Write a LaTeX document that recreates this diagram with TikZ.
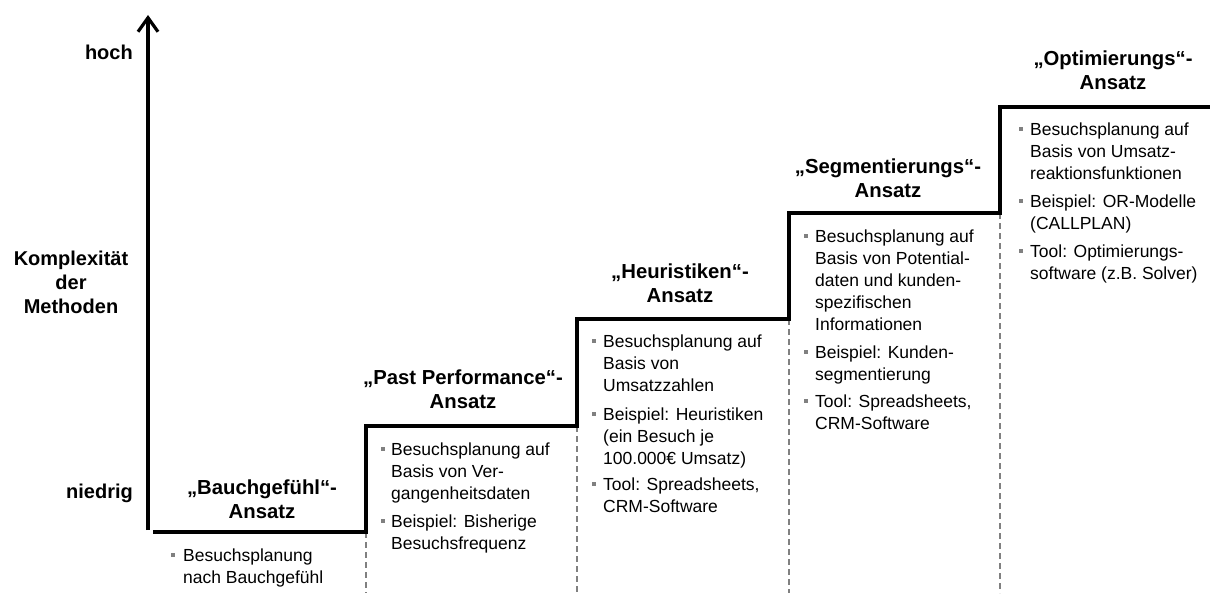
\documentclass[tikz,border=0pt]{standalone}
\usepackage{fontspec}
\setmainfont{Liberation Sans}
\usetikzlibrary{arrows.meta}
\begin{document}
\begin{tikzpicture}[x=1pt,y=-1pt,
  ttl/.style={font=\bfseries\fontsize{20.3}{24}\selectfont, align=center, anchor=base, inner sep=0pt},
  lbl/.style={font=\bfseries\fontsize{20}{24}\selectfont, inner sep=0pt},
  txt/.style={font=\fontsize{17.5}{22}\selectfont, align=left, anchor=base west, inner sep=0pt},
  bul/.style={fill=gray, minimum size=4.5pt, inner sep=0pt},
  stepline/.style={line width=3.3pt, line cap=rect, line join=miter},
  guide/.style={gray, line width=1.3pt, dash pattern=on 6pt off 4pt}
]
\useasboundingbox (0,0) rectangle (1210,615);
% axis
\coordinate (a0) at (148,530);
\coordinate (a1) at (148,15);
\draw[line width=3.8pt, -{Straight Barb[length=14pt,width=20pt,line width=3.2pt]}] (a0) -- (a1);
\node[lbl, anchor=base east] (hoch) at (133,60) {hoch};
\node[lbl, anchor=base east] (niedrig) at (133,498) {niedrig};
\node[lbl, anchor=base, align=center] (kompl) at (71,313) {Komplexität\\der\\Methoden};
% steps
\coordinate (s0) at (155,532);
\coordinate (s1) at (366,532);
\coordinate (s2) at (366,426);
\coordinate (s3) at (577,426);
\coordinate (s4) at (577,319);
\coordinate (s5) at (789,319);
\coordinate (s6) at (789,213);
\coordinate (s7) at (1000,213);
\coordinate (s8) at (1000,107);
\coordinate (s9) at (1210,107);
\coordinate (d1) at (366,593);
\coordinate (d2) at (577,593);
\coordinate (d3) at (789,593);
\coordinate (d4) at (1000,593);
\draw[guide] (s1) -- (d1);
\draw[guide] (s3) -- (d2);
\draw[guide] (s5) -- (d3);
\draw[guide] (s7) -- (d4);
\draw[stepline] (s0) -- (s1) -- (s2) -- (s3) -- (s4) -- (s5) -- (s6) -- (s7) -- (s8) -- (s9);
% titles (anchored at baseline of last line)
\node[ttl] (t1) at (262,518) {„Bauchgefühl“-\\Ansatz};
\node[ttl] (t2) at (463,408) {„Past Performance“-\\Ansatz};
\node[ttl] (t3) at (680,302) {„Heuristiken“-\\Ansatz};
\node[ttl] (t4) at (888,197) {„Segmentierungs“-\\Ansatz};
\node[ttl] (t5) at (1113,90) {„Optimierungs“-\\Ansatz};
% step 1 (text nodes anchored at baseline of last line)
\node[bul] (b11) at (173,555) {};
\node[txt] (x11) at (183,583) {Besuchsplanung\\nach Bauchgefühl};
% step 2
\node[bul] (b21) at (383,449) {};
\node[txt] (x21) at (391,499) {Besuchsplanung auf\\Basis von Ver-\\gangenheitsdaten};
\node[bul] (b22) at (383,521) {};
\node[txt] (x22) at (391,549) {Beispiel: Bisherige\\Besuchsfrequenz};
% step 3
\node[bul] (b31) at (594,341) {};
\node[txt] (x31) at (603,391) {Besuchsplanung auf\\Basis von\\Umsatzzahlen};
\node[bul] (b32) at (594,414) {};
\node[txt] (x32) at (603,464) {Beispiel: Heuristiken\\(ein Besuch je\\100.000€ Umsatz)};
\node[bul] (b33) at (594,484) {};
\node[txt] (x33) at (603,512) {Tool: Spreadsheets,\\CRM-Software};
% step 4
\node[bul] (b41) at (806,236) {};
\node[txt] (x41) at (815,330) {Besuchsplanung auf\\Basis von Potential-\\daten und kunden-\\spezifischen\\Informationen};
\node[bul] (b42) at (806,352) {};
\node[txt] (x42) at (815,380) {Beispiel: Kunden-\\segmentierung};
\node[bul] (b43) at (806,401) {};
\node[txt] (x43) at (815,429) {Tool: Spreadsheets,\\CRM-Software};
% step 5
\node[bul] (b51) at (1021,129) {};
\node[txt] (x51) at (1030,179) {Besuchsplanung auf\\Basis von Umsatz-\\reaktionsfunktionen};
\node[bul] (b52) at (1021,201) {};
\node[txt] (x52) at (1030,229) {Beispiel: OR-Modelle\\(CALLPLAN)};
\node[bul] (b53) at (1021,251) {};
\node[txt] (x53) at (1030,279) {Tool: Optimierungs-\\software (z.B. Solver)};
\end{tikzpicture}
\end{document}
